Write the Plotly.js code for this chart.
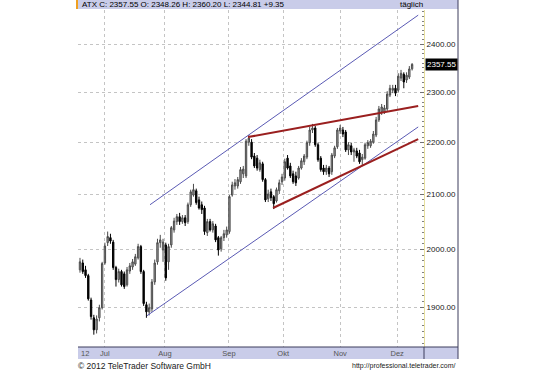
<!DOCTYPE html>
<html><head><meta charset="utf-8">
<script src="https://cdn.plot.ly/plotly-3.0.1.min.js"></script>
<style>html,body{margin:0;padding:0;background:#fff}#chart{width:540px;height:373px}</style>
</head><body><div id="chart"></div>
<script>
// Daily ATX candles, mid June 2012 .. early Dec 2012
const open = [1964,1976,1964,1954,1912,1882,1862,1882,1899,1976, 2012,2021,2013,1968,1947,1961,1957,1938,1962,1969,
  1974,1985,2005,1961,1904,1892,1897,1943,1978,2012, 1999,2008,1978,2008,2035,2050,2059,2050,2057,2050,
  2081,2099,2107,2090,2081,2075,2030,2050,2035,2042, 2021,2001,2021,2026,2032,2099,2116,2116,2124,2139,
  2135,2200,2200,2173,2169,2147,2158,2128,2092,2105, 2096,2088,2107,2124,2131,2169,2154,2139,2135,2131,
  2150,2162,2171,2199,2224,2228,2195,2169,2150,2143, 2150,2143,2173,2191,2222,2224,2220,2185,2193,2181,
  2183,2179,2166,2169,2193,2193,2200,2214,2244,2260, 2260,2266,2294,2304,2308,2304,2329,2337,2325,2331,
  2348.26];
const close = [1978,1961,1954,1914,1884,1862,1880,1899,1975,2006, 2023,2015,1968,1947,1961,1938,1935,1964,1971,1978,
  1987,2005,1961,1906,1892,1899,1943,1976,2012,2017, 2013,1950,2005,2039,2051,2059,2050,2057,2048,2081,
  2105,2109,2085,2075,2072,2032,2050,2035,2046,2017, 1999,2021,2028,2035,2096,2118,2122,2128,2147,2148,
  2202,2208,2171,2154,2150,2160,2128,2090,2101,2094, 2083,2109,2122,2133,2162,2150,2135,2124,2122,2150,
  2164,2173,2199,2224,2228,2195,2166,2147,2143,2150, 2139,2175,2189,2224,2228,2216,2185,2195,2181,2185,
  2173,2162,2171,2195,2199,2202,2216,2244,2266,2270, 2268,2296,2308,2308,2298,2333,2339,2321,2335,2348,
  2357.55];
const high = [1985,1982,1971,1957,1916,1887,1886,1904,1978,2012, 2032,2028,2017,1971,1966,1964,1961,1969,1976,1983,
  1992,2010,2008,1964,1909,1906,1948,1982,2019,2026, 2019,2012,2010,2042,2057,2064,2066,2062,2062,2085,
  2109,2120,2111,2096,2087,2079,2055,2055,2051,2046, 2024,2024,2035,2041,2099,2124,2129,2133,2152,2154,
  2206,2214,2206,2179,2175,2166,2162,2131,2109,2111, 2099,2113,2128,2139,2168,2175,2160,2145,2143,2154,
  2169,2177,2203,2230,2236,2232,2199,2173,2156,2156, 2154,2179,2193,2228,2234,2230,2224,2200,2199,2189,
  2189,2185,2177,2199,2204,2206,2222,2250,2272,2276, 2274,2302,2315,2315,2315,2339,2346,2341,2341,2354,
  2360.20];
const low = [1959,1957,1950,1911,1879,1854,1856,1876,1896,1973, 2006,2010,1964,1935,1942,1935,1931,1935,1957,1964,
  1971,1982,1957,1902,1882,1886,1892,1938,1973,2003, 1978,1945,1964,2003,2030,2044,2044,2046,2042,2046,
  2077,2096,2081,2072,2064,2026,2024,2032,2030,2013, 1989,1996,2015,2021,2028,2096,2109,2111,2120,2131,
  2131,2193,2167,2150,2145,2143,2124,2086,2086,2088, 2073,2085,2101,2118,2126,2147,2131,2120,2116,2128,
  2147,2156,2167,2193,2218,2191,2162,2143,2137,2137, 2133,2137,2169,2187,2216,2210,2181,2175,2175,2162,
  2169,2158,2154,2166,2187,2189,2197,2210,2240,2254, 2256,2262,2290,2298,2292,2300,2323,2308,2319,2327,
  2344.81];

// trend lines (trading-day index, price)
const blueUpperX = [25.3, 122.2], blueUpperY = [2081, 2463];
const blueLowerX = [24.2, 122.2], blueLowerY = [1885.5, 2230];
const redUpperX = [60.7, 122.2], redUpperY = [2210, 2272];
const redLowerX = [69.75, 122.2], redLowerY = [2075, 2206];

// axis ticks
const monthTickPos = [9, 30.7, 53.8, 73.4, 94, 114.6];
const monthTickText = ['Jul','Aug','Sep','Okt','Nov','Dez'];
const priceTicks = [1900, 2000, 2100, 2200, 2300, 2400];
const priceTickText = ['1900.00','2000.00','2100.00','2200.00','2300.00','2400.00'];
const headerText = 'ATX C: 2357.55 O: 2348.26 H: 2360.20 L: 2344.81 +9.35';
const lastPrice = 2357.55;

const x = open.map((_, i) => i);
const minorTicks = [];
for (let v = 1840; v <= 2470; v += 10) if (v % 100 !== 0) minorTicks.push(v);

const L = 78, R = 424, T = 10, B = 347;
const px = v => (v - L) / (R - L);
const py = v => (B - v) / (B - T);

const traces = [
  {type:'candlestick', x:x, open:open, high:high, low:low, close:close,
   increasing:{fillcolor:'#a6a6a6', line:{color:'#4a4a4a', width:1}},
   decreasing:{fillcolor:'#000000', line:{color:'#000000', width:1}},
   whiskerwidth:0, hoverinfo:'skip'},
  {type:'scatter', mode:'lines', x:blueUpperX, y:blueUpperY, line:{color:'#5a5ab4', width:1}, hoverinfo:'skip'},
  {type:'scatter', mode:'lines', x:blueLowerX, y:blueLowerY, line:{color:'#5a5ab4', width:1}, hoverinfo:'skip'},
  {type:'scatter', mode:'lines', x:redUpperX, y:redUpperY, line:{color:'#9a1f1f', width:2}, hoverinfo:'skip'},
  {type:'scatter', mode:'lines', x:redLowerX, y:redLowerY, line:{color:'#9a1f1f', width:2}, hoverinfo:'skip'}
];

const band = '#c9cce9', border = '#3c3c5c';
const layout = {
  width:540, height:373,
  margin:{l:L, r:540-R, t:T, b:373-B, pad:0},
  paper_bgcolor:'#ffffff', plot_bgcolor:'#ffffff',
  showlegend:false,
  font:{family:'Liberation Sans, Arial, sans-serif', size:8, color:'#202020'},
  xaxis:{range:[-0.72, 124.3], rangeslider:{visible:false}, tickmode:'array',
    tickvals:monthTickPos, ticktext:monthTickText, showgrid:true, gridcolor:'#c4c4c4',
    griddash:'dot', gridwidth:1, ticks:'', zeroline:false, showline:false,
    tickfont:{size:7.5, color:'#555555'}},
  yaxis:{type:'log', range:[Math.log10(1833.8), Math.log10(2474.3)], side:'right',
    tickmode:'array', tickvals:priceTicks, ticktext:priceTickText,
    showgrid:true, gridcolor:'#c4c4c4', griddash:'dot', gridwidth:1,
    ticks:'inside', ticklen:4, tickcolor:'#707070', showline:true, linecolor:'#e6df9e', linewidth:1,
    zeroline:false, tickfont:{size:8, color:'#202020'},
    minor:{tickmode:'array', tickvals:minorTicks, ticks:'inside', ticklen:2, tickcolor:'#808080', showgrid:false}},
  shapes:[
    {type:'rect', xref:'paper', yref:'paper', x0:0, x1:px(458), y0:py(9), y1:py(0), fillcolor:band, line:{width:0}, layer:'below'},
    {type:'rect', xref:'paper', yref:'paper', x0:0, x1:px(458), y0:py(359), y1:py(347), fillcolor:band, line:{width:0}, layer:'below'},
    {type:'line', xref:'paper', yref:'paper', x0:0, x1:px(458), y0:py(347), y1:py(347), line:{color:border, width:1}},
    {type:'line', xref:'paper', yref:'paper', x0:px(458), x1:px(458), y0:py(359), y1:py(0), line:{color:border, width:1}},
    {type:'line', xref:'paper', yref:'paper', x0:1, x1:1, y0:py(359), y1:py(347), line:{color:border, width:1}},
    {type:'rect', xref:'paper', yref:'paper', x0:px(76), x1:px(78), y0:py(9), y1:py(0), fillcolor:'#f0a020', line:{width:0}}
  ],
  annotations:[
    {xref:'paper', yref:'paper', x:px(80), y:py(4.5), xanchor:'left', yanchor:'middle', showarrow:false,
     text:headerText, font:{size:8, color:'#000000'}},
    {xref:'paper', yref:'paper', x:px(398), y:py(4.5), xanchor:'left', yanchor:'middle', showarrow:false,
     text:'täglich', font:{size:8, color:'#000000'}},
    {xref:'paper', yref:'y', x:1, y:Math.log10(lastPrice), xanchor:'left', yanchor:'middle', xshift:1, showarrow:false,
     text:lastPrice.toFixed(2), bgcolor:'#000000', borderpad:1, font:{size:8, color:'#ffffff'}},
    {xref:'paper', yref:'paper', x:px(79), y:py(353), xanchor:'left', yanchor:'middle', showarrow:false,
     text:'12', font:{size:7.5, color:'#555555'}},
    {xref:'paper', yref:'paper', x:px(76), y:py(366), xanchor:'left', yanchor:'middle', showarrow:false,
     text:'© 2012 TeleTrader Software GmbH', font:{size:8.5, color:'#202020'}},
    {xref:'paper', yref:'paper', x:px(458), y:py(366), xanchor:'right', yanchor:'middle', showarrow:false,
     text:'http://professional.teletrader.com/', font:{size:7, color:'#202020'}}
  ]
};

Plotly.newPlot('chart', traces, layout, {staticPlot:true, displayModeBar:false});
</script>
</body></html>
